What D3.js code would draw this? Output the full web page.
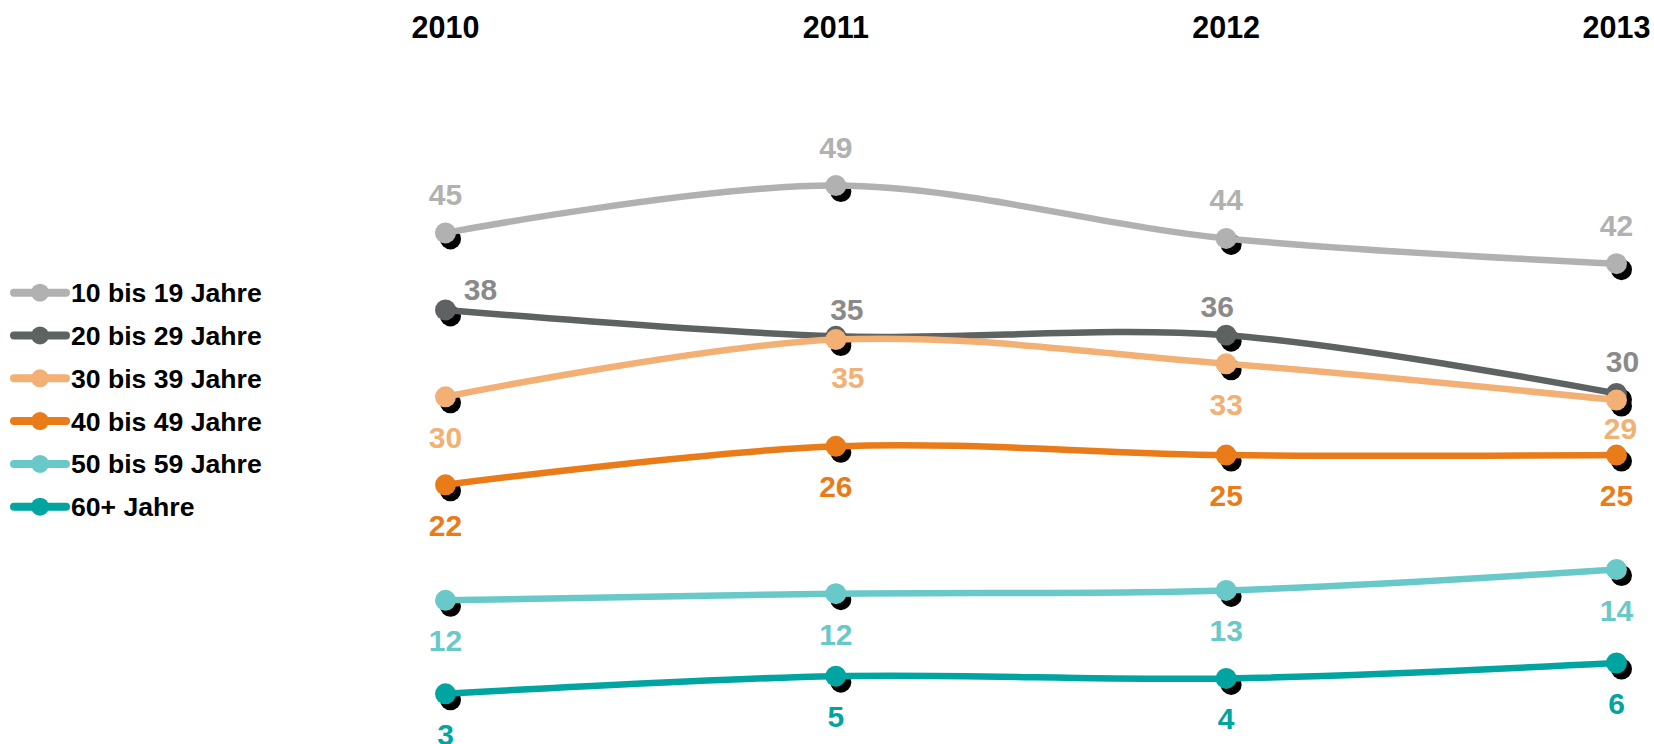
<!DOCTYPE html>
<html>
<head>
<meta charset="utf-8">
<script src="https://cdn.jsdelivr.net/npm/d3@7"></script>
<style>
  body { margin: 0; background: #fff; }
  svg text { font-family: "Liberation Sans", Arial, sans-serif; font-weight: bold; }
</style>
</head>
<body>
<div id="chart"></div>
<script>
(function () {
  'use strict';

  // categories
  var years = ['2010', '2011', '2012', '2013'];
  var groups = ['10 bis 19 Jahre', '20 bis 29 Jahre', '30 bis 39 Jahre',
                '40 bis 49 Jahre', '50 bis 59 Jahre', '60+ Jahre'];

  // plotted values and the printed labels
  var age10to19 = [44.9, 49.2, 44.4, 42.1];
  var age20to29 = [37.9, 35.5, 35.6, 30.3];
  var age30to39 = [30.0, 35.2, 33.0, 29.7];
  var age40to49 = [22.0, 25.5, 24.7, 24.7];
  var age50to59 = [11.5, 12.1, 12.4, 14.3];
  var age60plus = [3.0, 4.6, 4.4, 5.8];

  var labels10to19 = ['45', '49', '44', '42'];
  var labels20to29 = ['38', '35', '36', '30'];
  var labels30to39 = ['30', '35', '33', '29'];
  var labels40to49 = ['22', '26', '25', '25'];
  var labels50to59 = ['12', '12', '13', '14'];
  var labels60plus = ['3', '5', '4', '6'];

  var seriesValues = [age10to19, age20to29, age30to39, age40to49, age50to59, age60plus];
  var seriesLabels = [labels10to19, labels20to29, labels30to39, labels40to49, labels50to59, labels60plus];

  // styling
  var lineColors = ['#b0b1b0', '#5f6262', '#f2b074', '#e97c18', '#69c9c8', '#00a4a0'];
  var textColors = ['#b0b1b0', '#8a8a8a', '#f2b074', '#e97c18', '#69c9c8', '#00a4a0'];
  var placement = ['above', 'above', 'below', 'below', 'below', 'below'];
  // hand nudges for labels that sit off the default spot [dx, dy]
  var nudges = {
    '1-0': [35, -10], '1-1': [11, -16], '1-2': [-9, -18], '1-3': [6, -22],
    '2-1': [12, 48], '2-3': [4, 39]
  };

  var width = 1654, height = 744;

  var svg = d3.select('#chart').append('svg')
    .attr('width', width)
    .attr('height', height);

  var x = d3.scalePoint().domain(years).range([445.5, 1616.5]);
  var y = d3.scaleLinear().domain([0, 50]).range([726.8, 176.8]);

  // year headers on top
  svg.append('g').selectAll('text')
    .data(years)
    .enter()
    .append('text')
    .attr('x', function (d) { return x(d); })
    .attr('y', 38)
    .attr('text-anchor', 'middle')
    .style('font-size', '30.5px')
    .style('fill', '#000')
    .text(function (d) { return d; });

  var line = d3.line()
    .x(function (d, i) { return x(years[i]); })
    .y(function (d) { return y(d); })
    .curve(d3.curveCardinal.tension(0));

  var r = 10.5;

  // draw each series: line, shadow dots, dots
  seriesValues.forEach(function (vals, s) {
    var g = svg.append('g').attr('class', 'series');

    g.selectAll('circle.shadow')
      .data(vals)
      .enter()
      .append('circle')
      .attr('class', 'shadow')
      .attr('cx', function (d, i) { return x(years[i]) + 5; })
      .attr('cy', function (d) { return y(d) + 6; })
      .attr('r', r)
      .style('fill', '#000');

    g.append('path')
      .datum(vals)
      .attr('d', line)
      .style('fill', 'none')
      .style('stroke', lineColors[s])
      .style('stroke-width', 6.5);

    g.selectAll('circle.dot')
      .data(vals)
      .enter()
      .append('circle')
      .attr('class', 'dot')
      .attr('cx', function (d, i) { return x(years[i]); })
      .attr('cy', function (d) { return y(d); })
      .attr('r', r)
      .style('fill', lineColors[s]);
  });

  // value labels go on top of everything
  seriesValues.forEach(function (vals, s) {
    svg.append('g').selectAll('text')
      .data(vals)
      .enter()
      .append('text')
      .attr('x', function (d, i) {
        var n = nudges[s + '-' + i];
        return x(years[i]) + (n ? n[0] : 0);
      })
      .attr('y', function (d, i) {
        var n = nudges[s + '-' + i];
        if (n) { return y(d) + n[1]; }
        return y(d) + (placement[s] === 'above' ? -28 : 51);
      })
      .attr('text-anchor', 'middle')
      .style('font-size', '30px')
      .style('fill', textColors[s])
      .text(function (d, i) { return seriesLabels[s][i]; });
  });

  // legend on the left
  var ly = d3.scalePoint().domain(groups).range([292.7, 506.7]);

  var items = svg.append('g').selectAll('g')
    .data(groups)
    .enter()
    .append('g')
    .attr('transform', function (d) { return 'translate(0,' + ly(d) + ')'; });

  items.append('line')
    .attr('x1', 14)
    .attr('x2', 66)
    .style('stroke', function (d, i) { return lineColors[i]; })
    .style('stroke-width', 8)
    .style('stroke-linecap', 'round');

  items.append('circle')
    .attr('cx', 40)
    .attr('r', 9)
    .style('fill', function (d, i) { return lineColors[i]; });

  items.append('text')
    .attr('x', 71)
    .attr('y', 9.5)
    .style('font-size', '26.6px')
    .style('fill', '#000')
    .text(function (d) { return d; });
}());
</script>
</body>
</html>
